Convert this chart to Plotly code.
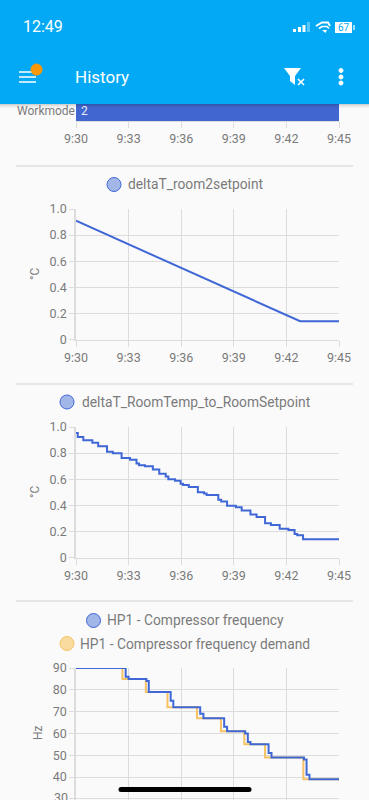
import plotly.graph_objects as go

# ---------- data (x = seconds after 9:30) ----------
tick_seconds = [0, 180, 360, 540, 720, 900]
tick_labels = ["9:30", "9:33", "9:36", "9:39", "9:42", "9:45"]

workmode_value = [900]
workmode_label = ["2"]
workmode_category = ["Workmode"]

room2_t = [0, 60, 120, 180, 240, 300, 360, 420, 480, 540, 600, 660, 720, 767, 900]
room2_v = [0.91, 0.85, 0.79, 0.73, 0.67, 0.61, 0.55, 0.49, 0.43, 0.37, 0.31, 0.25, 0.19, 0.14, 0.14]

room_t = [0, 6, 25, 56, 76, 106, 126, 156, 185, 207, 216, 236, 263, 285, 307, 316, 339, 358, 366, 386,
          417, 438, 447, 487, 497, 517, 547, 567, 597, 618, 647, 667, 697, 727, 748, 757, 777, 900]
room_v = [0.954, 0.923, 0.898, 0.88, 0.852, 0.81, 0.798, 0.762, 0.75, 0.72, 0.706, 0.70, 0.675, 0.642, 0.62,
          0.60, 0.588, 0.565, 0.555, 0.54, 0.50, 0.49, 0.478, 0.442, 0.43, 0.396, 0.386, 0.36, 0.33, 0.31,
          0.263, 0.25, 0.22, 0.21, 0.18, 0.17, 0.14, 0.14]

freq_t = [0, 170, 180, 241, 249, 324, 333, 425, 436, 507, 517, 579, 588, 597, 659, 669, 780, 789, 799, 900]
freq_v = [90, 86, 85, 84, 79, 75, 72, 69, 67, 63, 61, 60, 56, 55, 51, 49, 48, 41, 39, 39]

demand_t = [0, 159, 239, 313, 414, 496, 576, 647, 778, 900]
demand_v = [90, 85, 79, 72, 67, 61, 55, 49, 39, 39]

# ---------- style ----------
W, H = 369, 800
BG = "#fbfafb"
HEADER = "#03a9f4"
BLUE = "#3f68d6"
ORANGE = "#f6c263"
GRID = "#dddcdd"
TXT = "#7a7a7a"
FONT = "Roboto"


def px(x):
    return x / W


def py(y):
    return 1 - y / H


def dom(top, bottom):
    return [py(bottom), py(top)]


fig = go.Figure()
fig.add_trace(go.Bar(x=workmode_value, y=workmode_category, base=0, orientation="h", width=1,
                     marker=dict(color="#4166cf", line=dict(color="#a9bbe8", width=0)),
                     xaxis="x", yaxis="y", showlegend=False))
fig.add_trace(go.Scatter(x=room2_t, y=room2_v, mode="lines", name="deltaT_room2setpoint", cliponaxis=False,
                         line=dict(color=BLUE, width=2), xaxis="x2", yaxis="y2", showlegend=False))
fig.add_trace(go.Scatter(x=room_t, y=room_v, mode="lines", name="deltaT_RoomTemp_to_RoomSetpoint", cliponaxis=False,
                         line=dict(color=BLUE, width=2, shape="hv"), xaxis="x3", yaxis="y3", showlegend=False))
fig.add_trace(go.Scatter(x=demand_t, y=demand_v, mode="lines", name="HP1 - Compressor frequency demand", cliponaxis=False,
                         line=dict(color=ORANGE, width=2, shape="hv"), xaxis="x4", yaxis="y4", showlegend=False))
fig.add_trace(go.Scatter(x=freq_t, y=freq_v, mode="lines", name="HP1 - Compressor frequency", cliponaxis=False,
                         line=dict(color=BLUE, width=2, shape="hv"), xaxis="x4", yaxis="y4", showlegend=False))

xdom = [px(76), px(339)]
xbase = dict(domain=xdom, range=[0, 900], tickmode="array", tickvals=tick_seconds, ticktext=tick_labels,
             showgrid=True, gridcolor=GRID, gridwidth=1.2, showline=True, linecolor=GRID, linewidth=1.2,
             ticks="outside", ticklen=6, tickcolor=GRID, tickfont=dict(size=12.5, color=TXT, family=FONT),
             zeroline=False, fixedrange=True, automargin=False)
ybase = dict(showgrid=True, gridcolor=GRID, gridwidth=1.2, showline=True, linecolor=GRID, linewidth=1.5,
             ticks="outside", ticklen=5, tickcolor=GRID, tickfont=dict(size=12.5, color=TXT, family=FONT),
             zeroline=False, fixedrange=True, automargin=False)

layout_axes = dict(
    xaxis={**xbase, "anchor": "y", "showgrid": False},
    yaxis=dict(domain=dom(101, 121), anchor="x", type="category", showgrid=False, showline=False, ticks="",
               ticklen=0, tickfont=dict(size=12, color=TXT, family=FONT), fixedrange=True, automargin=False),
    xaxis2={**xbase, "anchor": "y2"},
    yaxis2={**ybase, "anchor": "x2", "domain": dom(209, 339.5), "range": [0, 1],
            "tickvals": [0, 0.2, 0.4, 0.6, 0.8, 1.0], "ticktext": ["0", "0.2", "0.4", "0.6", "0.8", "1.0"]},
    xaxis3={**xbase, "anchor": "y3"},
    yaxis3={**ybase, "anchor": "x3", "domain": dom(427, 557.5), "range": [0, 1],
            "tickvals": [0, 0.2, 0.4, 0.6, 0.8, 1.0], "ticktext": ["0", "0.2", "0.4", "0.6", "0.8", "1.0"]},
    xaxis4={**xbase, "anchor": "y4", "showticklabels": False, "ticks": "", "showline": False},
    yaxis4={**ybase, "anchor": "x4", "domain": dom(668, 800), "range": [29.45, 90],
            "tickvals": [30, 40, 50, 60, 70, 80, 90]},
)


def hline(y, x0=16, x1=353, color="#dfdfdf", width=1.5):
    return dict(type="line", xref="paper", yref="paper", x0=px(x0), x1=px(x1), y0=py(y), y1=py(y),
                line=dict(color=color, width=width), layer="below")


def rect(x0, y0, x1, y1, fill, layer="above", opacity=1):
    return dict(type="rect", xref="paper", yref="paper", x0=px(x0), x1=px(x1), y0=py(y0), y1=py(y1),
                fillcolor=fill, line=dict(width=0), layer=layer, opacity=opacity)


def circle(cx, cy, r, fill, line_color=None, lw=1):
    return dict(type="circle", xref="paper", yref="paper", x0=px(cx - r), x1=px(cx + r), y0=py(cy - r), y1=py(cy + r),
                fillcolor=fill, line=dict(color=line_color or fill, width=lw), layer="above")


def poly(points, fill=None, line_color=None, lw=0, close=True):
    d = "M " + " L ".join(f"{px(x):.5f},{py(y):.5f}" for x, y in points) + (" Z" if close else "")
    return dict(type="path", xref="paper", yref="paper", path=d, fillcolor=fill or "rgba(0,0,0,0)",
                line=dict(color=line_color or "rgba(0,0,0,0)", width=lw), layer="above")


def seg(x0, y0, x1, y1, color="white", width=1.5):
    return dict(type="line", xref="paper", yref="paper", x0=px(x0), x1=px(x1), y0=py(y0), y1=py(y1),
                line=dict(color=color, width=width), layer="above")


shapes = [hline(166), hline(384), hline(601)]
# app-bar shadow and bar
for i, op in enumerate([0.16, 0.10, 0.06, 0.03]):
    shapes.append(rect(0, 104 + i, W, 105 + i, "#000000", opacity=op))
shapes.append(rect(0, 0, W, 104, HEADER))
# legend markers
shapes += [circle(114, 184.5, 7, "#a3b6e8", BLUE, 1),
           circle(67, 402, 7, "#a3b6e8", BLUE, 1),
           circle(93.5, 620.5, 7, "#a3b6e8", BLUE, 1),
           circle(67, 643.5, 7, "#fadb9f", ORANGE, 1)]
# hamburger + badge
shapes += [seg(19, 72, 32, 72), seg(19, 77, 36, 77), seg(19, 82, 36, 82), circle(36.5, 69.5, 5.5, "#ff9800")]
# filter-off icon
shapes.append(poly([(284, 68), (301, 68), (295, 76), (295, 85), (290, 81), (290, 76)], fill="white"))
shapes += [seg(298, 79, 304, 85, width=1.6), seg(304, 79, 298, 85, width=1.6)]
# kebab
shapes += [circle(341, 70.5, 2, "white"), circle(341, 77, 2, "white"), circle(341, 83, 2, "white")]
# status bar: signal
shapes += [rect(293, 29, 296, 32, "white"), rect(298, 27, 301, 32, "white"), rect(302.5, 25, 305.5, 32, "white"),
           rect(307, 22, 310, 32, "rgba(255,255,255,0.35)")]
# wifi
shapes += [poly([(316, 26), (322, 22.5), (328, 22.5), (330, 26)], None, "white", 2, close=False),
           poly([(319, 28.5), (322, 26.5), (327, 26.5), (329, 28.5)], None, "white", 1.6, close=False),
           poly([(322, 30), (325.5, 33), (327, 30)], fill="white")]
# battery
shapes += [rect(335, 22, 352, 33, "white"), rect(353, 25, 355, 30, "rgba(255,255,255,0.6)")]
# home indicator
shapes += [rect(121, 787, 249, 792, "#000000"), circle(121, 789.5, 2.5, "#000000", lw=0),
           circle(249, 789.5, 2.5, "#000000", lw=0)]


def text(x, y, s, size=13, color=TXT, anchor="left", angle=0):
    return dict(xref="paper", yref="paper", x=px(x), y=py(y), text=s, showarrow=False, xanchor=anchor,
                yanchor="middle", textangle=angle, font=dict(size=size, color=color, family=FONT), align=anchor)


annotations = [
    text(125.5, 184, "deltaT_room2setpoint", 13.8),
    text(79.5, 402, "deltaT_RoomTemp_to_RoomSetpoint", 13.8),
    text(105, 620, "HP1 - Compressor frequency", 13.8),
    text(78, 643.5, "HP1 - Compressor frequency demand", 13.8),
    text(35, 274, "°C", 12, anchor="center", angle=-90),
    text(35, 492, "°C", 12, anchor="center", angle=-90),
    text(38, 733, "Hz", 12, anchor="center", angle=-90),
    text(72.5, 77, "History", 17, "white"),
    text(20.5, 27, "12:49", 16, "white"),
    text(343.5, 27.5, "67", 10, HEADER, "center"),
    text(78.5, 111, workmode_label[0], 12, "#e8ecf8"),
    text(69.5, 797, "30", 12.5, TXT, "right"),
]

fig.update_layout(
    width=W, height=H, autosize=False,
    margin=dict(l=0, r=0, t=0, b=0, pad=0),
    paper_bgcolor=BG, plot_bgcolor=BG,
    font=dict(family=FONT, color=TXT, size=12),
    showlegend=False,
    shapes=shapes, annotations=annotations,
    **layout_axes,
)

fig.write_html("out.html", config=dict(displayModeBar=False, responsive=False),
               post_script="document.body.style.margin='0';document.body.style.overflow='hidden';")
